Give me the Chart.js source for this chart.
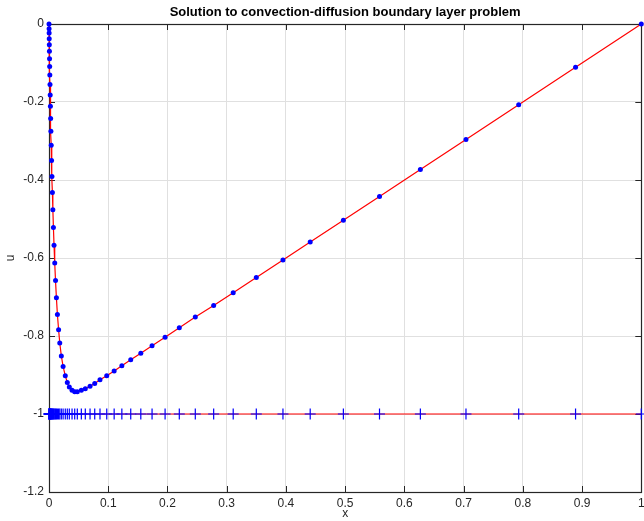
<!DOCTYPE html>
<html>
<head>
<meta charset="utf-8">
<script src="https://cdn.jsdelivr.net/npm/chart.js@4.4.1/dist/chart.umd.min.js"></script>
<style>
  html, body { margin: 0; padding: 0; background: #ffffff; overflow: hidden; }
  #wrap { width: 648px; height: 521px; }
</style>
</head>
<body>
<div id="wrap"><canvas id="blayer"></canvas></div>
<script>
const meshX = [0, 0.00012, 0.00023, 0.00039, 0.00054, 0.00073, 0.00094, 0.00116, 0.00141, 0.00169,
  0.00202, 0.00238, 0.00278, 0.00322, 0.00374, 0.00432, 0.00499, 0.00571, 0.00652, 0.00745,
  0.00849, 0.00967, 0.01101, 0.0125, 0.0142, 0.0162, 0.0182, 0.0208, 0.0238, 0.0275,
  0.0309, 0.0343, 0.0389, 0.0434, 0.0478, 0.0546, 0.0613, 0.0693, 0.0772, 0.0861,
  0.0975, 0.110, 0.123, 0.138, 0.155, 0.174, 0.196, 0.220, 0.247, 0.278,
  0.311, 0.350, 0.395, 0.441, 0.497, 0.558, 0.627, 0.704, 0.793, 0.889, 1.0];

// computed solution at the mesh points (blue dots)
const numU = [0, -0.012, -0.023, -0.038, -0.053, -0.070, -0.089, -0.109, -0.131, -0.155,
  -0.182, -0.211, -0.242, -0.275, -0.311, -0.350, -0.391, -0.432, -0.476, -0.522,
  -0.567, -0.613, -0.658, -0.702, -0.745, -0.784, -0.818, -0.851, -0.878, -0.902,
  -0.919, -0.931, -0.939, -0.943, -0.943, -0.939, -0.935, -0.929, -0.922, -0.912,
  -0.902, -0.890, -0.876, -0.861, -0.844, -0.825, -0.803, -0.779, -0.751, -0.722,
  -0.689, -0.650, -0.605, -0.559, -0.503, -0.442, -0.373, -0.296, -0.207, -0.111, 0];

// exact solution (red curve), same points
const exactU = numU.slice();

const meshLevel = -1;
const xTickVals = [0, 0.1, 0.2, 0.3, 0.4, 0.5, 0.6, 0.7, 0.8, 0.9, 1];
const yTickVals = [-1.2, -1, -0.8, -0.6, -0.4, -0.2, 0];

const axisColor = "#262626";
const gridColor = "#e0e0e0";

Chart.defaults.font.family = "'Liberation Sans', Arial, Helvetica, sans-serif";
Chart.defaults.font.size = 12;
Chart.defaults.color = axisColor;

// box round the plot with inward ticks, like the original
const boxPlugin = {
  id: "box",
  beforeDatasetsDraw(chart) {
    const { ctx, chartArea: a, scales } = chart;
    const x = scales.x, y = scales.y;
    ctx.save();
    ctx.strokeStyle = axisColor;
    ctx.lineWidth = 1;
    ctx.beginPath();
    x.ticks.forEach((t) => {
      const px = Math.round(x.getPixelForValue(t.value)) + 0.5;
      ctx.moveTo(px, a.bottom); ctx.lineTo(px, a.bottom - 6);
      ctx.moveTo(px, a.top); ctx.lineTo(px, a.top + 6);
    });
    y.ticks.forEach((t) => {
      const py = Math.round(y.getPixelForValue(t.value)) + 0.5;
      ctx.moveTo(a.left, py); ctx.lineTo(a.left + 6, py);
      ctx.moveTo(a.right, py); ctx.lineTo(a.right - 6, py);
    });
    ctx.stroke();
    ctx.lineWidth = 1.2;
    ctx.strokeRect(Math.round(a.left) + 0.5, Math.round(a.top) + 0.5,
      Math.round(a.right - a.left), Math.round(a.bottom - a.top));
    ctx.restore();
  },
};

const data_layer = {
  datasets: [
    {
      label: "mesh",
      data: meshX.map((x) => ({ x: x, y: meshLevel })),
      showLine: false,
      pointStyle: "cross",
      pointRadius: 5.5,
      pointBorderColor: "#0000ff",
      pointBorderWidth: 1.2,
      order: 0,
      clip: false,
    },
    {
      label: "computed",
      data: meshX.map((x, i) => ({ x: x, y: numU[i] })),
      showLine: false,
      pointStyle: "circle",
      pointRadius: 2.5,
      pointBackgroundColor: "#0000ff",
      pointBorderColor: "#0000ff",
      pointBorderWidth: 0,
      order: 1,
      clip: false,
    },
    {
      label: "exact",
      data: meshX.map((x, i) => ({ x: x, y: exactU[i] })),
      showLine: true,
      borderColor: "#ff0000",
      borderWidth: 1.2,
      pointRadius: 0,
      tension: 0,
      order: 2,
      clip: false,
    },
    {
      label: "level",
      data: [{ x: meshX[0], y: meshLevel }, { x: meshX[meshX.length - 1], y: meshLevel }],
      showLine: true,
      borderColor: "#ff0000",
      borderWidth: 1.2,
      pointRadius: 0,
      order: 3,
      clip: false,
    },
  ],
};

const config_layer = {
  type: "scatter",
  data: data_layer,
  options: {
    responsive: true,
    maintainAspectRatio: false,
    animation: false,
    layout: { padding: 0 },
    scales: {
      x: {
        type: "linear",
        min: 0,
        max: 1,
        afterBuildTicks: (s) => { s.ticks = xTickVals.map((v) => ({ value: v })); },
        afterFit: (s) => { s.height = 29; s.paddingRight = 0; },
        ticks: {
          padding: 4,
          color: axisColor,
          maxRotation: 0,
          callback: (v) => String(Number(v.toFixed(1))),
        },
        grid: { color: gridColor, lineWidth: 1, drawTicks: false },
        border: { display: false },
        title: { display: true, text: "x", color: axisColor, font: { size: 12 }, padding: { top: 0, bottom: 0 } },
      },
      y: {
        type: "linear",
        min: -1.2,
        max: 0,
        afterBuildTicks: (s) => { s.ticks = yTickVals.map((v) => ({ value: v })); },
        afterFit: (s) => { s.width = 49; },
        ticks: {
          padding: 5,
          color: axisColor,
          callback: (v) => String(Number(v.toFixed(1))),
        },
        grid: { color: gridColor, lineWidth: 1, drawTicks: false },
        border: { display: false },
        title: { display: true, text: "u", color: axisColor, font: { size: 12 }, padding: { top: 3, bottom: 0 } },
      },
    },
    plugins: {
      title: {
        display: true,
        fullSize: false,
        text: "Solution to convection-diffusion boundary layer problem",
        color: "#000000",
        font: { size: 13, weight: "bold" },
        padding: { top: 5, bottom: 3.4 },
      },
      legend: { display: false },
      tooltip: { enabled: false },
    },
  },
  plugins: [boxPlugin],
};

const blayer = new Chart(document.getElementById("blayer"), config_layer);
</script>
</body>
</html>
